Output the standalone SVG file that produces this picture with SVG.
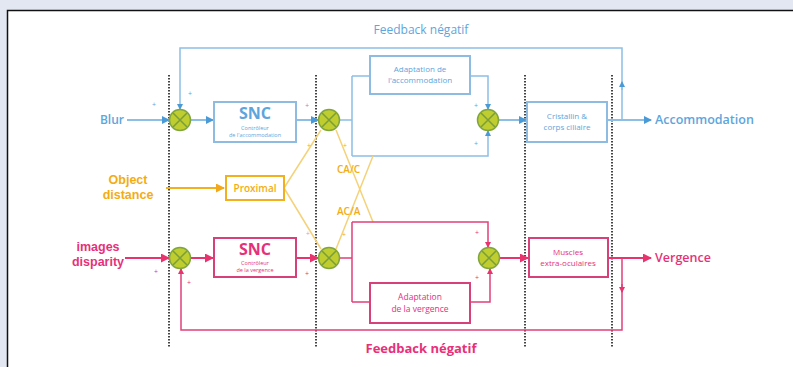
<svg xmlns="http://www.w3.org/2000/svg" width="793" height="367" viewBox="0 0 793 367">
<style>
text{font-family:"Open Sans","Noto Sans","Liberation Sans",sans-serif}
text.ls{font-family:"Liberation Sans",Arial,sans-serif}
.sep{stroke:#444;stroke-width:2;stroke-dasharray:1.5 1.5;fill:none}
.bl{stroke:#8dbfe6;stroke-width:1.5;fill:none}
.blb{stroke:#8dbfe6;stroke-width:2;fill:none}
.pk{stroke:#e0407a;stroke-width:1.5;fill:none}
.pkb{stroke:#e8336e;stroke-width:2;fill:none}
.yl{stroke:#f5d27a;stroke-width:1.5;fill:none}
.ylb{stroke:#f2b01e;stroke-width:2;fill:none}
.bbox{fill:#fff;stroke:#8dbbe2;stroke-width:2}
.pbox{fill:#fff;stroke:#d8407a;stroke-width:2}
.ybox{fill:#fff;stroke:#f2b01e;stroke-width:2}
.sc{fill:#c0cd2e;stroke:#7fa63e;stroke-width:1.5}
.sx{stroke:#7a9e3c;stroke-width:1.5;fill:none}
.tb{fill:#5ea5dc}
.tp{fill:#e6317a}
.ty{fill:#f2ad14}
.sg{font-size:7px}
</style>
<defs>
<marker id="ab" markerWidth="8" markerHeight="8" refX="7" refY="4" orient="auto" markerUnits="userSpaceOnUse"><path d="M0,0 L8,4 L0,8 z" fill="#4a9ad8"/></marker>
<marker id="ap" markerWidth="9" markerHeight="9" refX="8" refY="4.5" orient="auto" markerUnits="userSpaceOnUse"><path d="M0,0 L9,4.5 L0,9 z" fill="#e8336e"/></marker>
<marker id="ay" markerWidth="9" markerHeight="9" refX="8" refY="4.5" orient="auto" markerUnits="userSpaceOnUse"><path d="M0,0 L9,4.5 L0,9 z" fill="#f2a81a"/></marker>
<marker id="sb" markerWidth="6" markerHeight="6" refX="5" refY="3" orient="auto" markerUnits="userSpaceOnUse"><path d="M0,0 L6,3 L0,6 z" fill="#4a9ad8"/></marker>
<marker id="sp" markerWidth="6" markerHeight="6" refX="5" refY="3" orient="auto" markerUnits="userSpaceOnUse"><path d="M0,0 L6,3 L0,6 z" fill="#e8336e"/></marker>
</defs>
<rect x="0" y="0" width="793" height="367" fill="#e3e7f1"/>
<rect x="7.5" y="10.5" width="800" height="400" fill="#fff" stroke="#111" stroke-width="1.5"/>

<g id="separators">
<line class="sep" x1="169" y1="75" x2="169" y2="347"/>
<line class="sep" x1="316" y1="75" x2="316" y2="347"/>
<line class="sep" x1="525" y1="75" x2="525" y2="347"/>
<line class="sep" x1="612" y1="75" x2="612" y2="347"/>
</g>

<g id="connectors">
<line class="blb" x1="127" y1="120" x2="169" y2="120" marker-end="url(#ab)"/>
<line class="blb" x1="190" y1="120" x2="213" y2="120" marker-end="url(#ab)"/>
<line class="blb" x1="296" y1="120" x2="318" y2="120" marker-end="url(#ab)"/>
<path class="bl" d="M339 120 H352 M352 76 V156 M352 76 H370"/>
<path class="bl" d="M352 156 H488 V131" marker-end="url(#sb)"/>
<path class="bl" d="M470 76 H488 V109" marker-end="url(#sb)"/>
<line class="blb" x1="498" y1="120" x2="526" y2="120" marker-end="url(#ab)"/>
<line class="blb" x1="607" y1="120" x2="651" y2="120" marker-end="url(#ab)"/>
<path class="bl" d="M622 120 V48 H180 V109" marker-end="url(#sb)"/>
<line class="bl" x1="622" y1="90" x2="622" y2="82" marker-end="url(#sb)"/>
<line class="ylb" x1="166" y1="188" x2="224" y2="188" marker-end="url(#ay)"/>
<path class="yl" d="M284 188 L321 130 M284 188 L321 249 M373 156 L336 249 M373 222 L336 130"/>
<line class="pkb" x1="125" y1="258" x2="169" y2="258" marker-end="url(#ap)"/>
<line class="pkb" x1="190" y1="258" x2="213" y2="258" marker-end="url(#ap)"/>
<line class="pkb" x1="296" y1="258" x2="318" y2="258" marker-end="url(#ap)"/>
<path class="pk" d="M339 258 H352 M352 222 V302 M352 302 H370"/>
<path class="pk" d="M352 222 H488 V247" marker-end="url(#sp)"/>
<path class="pk" d="M470 302 H490 V269" marker-end="url(#sp)"/>
<line class="pkb" x1="499" y1="258" x2="528" y2="258" marker-end="url(#ap)"/>
<line class="pkb" x1="608" y1="258" x2="651" y2="258" marker-end="url(#ap)"/>
<path class="pk" d="M622 258 V330 H181 V269" marker-end="url(#sp)"/>
<line class="pk" x1="622" y1="284" x2="622" y2="292" marker-end="url(#sp)"/>
</g>

<g id="labels">
<text class="tb" x="124" y="124" font-size="12" font-weight="600" text-anchor="end">Blur</text>
<text class="tb" x="655" y="124" font-size="12.5" font-weight="600">Accommodation</text>
<text class="tb" x="421" y="34" font-size="12" text-anchor="middle">Feedback négatif</text>
<text class="ty ls" x="128" y="184" font-size="12.5" font-weight="700" text-anchor="middle">Object</text>
<text class="ty ls" x="128" y="199" font-size="12.5" font-weight="700" text-anchor="middle">distance</text>
<text class="ty" x="337" y="173" font-size="10" font-weight="600">CA/C</text>
<text class="ty" x="337" y="215" font-size="10" font-weight="600">AC/A</text>
<text class="tp ls" x="98" y="251" font-size="12.5" font-weight="700" text-anchor="middle">images</text>
<text class="tp ls" x="98" y="266" font-size="12.5" font-weight="700" text-anchor="middle">disparity</text>
<text class="tp" x="655" y="262" font-size="12.5" font-weight="600">Vergence</text>
<text class="tp" x="421" y="353" font-size="13" font-weight="700" text-anchor="middle">Feedback négatif</text>
<text class="tb sg" x="154" y="107" text-anchor="middle">+</text>
<text class="tb sg" x="190" y="96" text-anchor="middle">+</text>
<text class="tb sg" x="307" y="108" text-anchor="middle">+</text>
<text class="ty sg" x="309" y="148" text-anchor="middle">+</text>
<text class="ty sg" x="345" y="148" text-anchor="middle">+</text>
<text class="tb sg" x="476" y="108" text-anchor="middle">+</text>
<text class="tb sg" x="476" y="146" text-anchor="middle">+</text>
<text class="tp sg" x="156" y="274" text-anchor="middle">+</text>
<text class="tp sg" x="189" y="285" text-anchor="middle">+</text>
<text class="tp sg" x="307" y="276" text-anchor="middle">+</text>
<text class="ty sg" x="308" y="236" text-anchor="middle">+</text>
<text class="ty sg" x="344" y="237" text-anchor="middle">+</text>
<text class="tp sg" x="477" y="235" text-anchor="middle">+</text>
<text class="tp sg" x="477" y="280" text-anchor="middle">+</text>
</g>

<g id="sum-b1"><circle class="sc" cx="180" cy="120" r="10.5"/><path class="sx" d="M173 113 L187 127 M187 113 L173 127"/></g>
<g id="sum-b2"><circle class="sc" cx="329" cy="120" r="10.5"/><path class="sx" d="M322 113 L336 127 M336 113 L322 127"/></g>
<g id="sum-b3"><circle class="sc" cx="488" cy="120" r="10.5"/><path class="sx" d="M481 113 L495 127 M495 113 L481 127"/></g>
<g id="sum-p1"><circle class="sc" cx="180" cy="258" r="10.5"/><path class="sx" d="M173 251 L187 265 M187 251 L173 265"/></g>
<g id="sum-p2"><circle class="sc" cx="329" cy="258" r="10.5"/><path class="sx" d="M322 251 L336 265 M336 251 L322 265"/></g>
<g id="sum-p3"><circle class="sc" cx="489" cy="258" r="10.5"/><path class="sx" d="M482 251 L496 265 M496 251 L482 265"/></g>

<g id="snc-acc">
<rect class="bbox" x="214" y="102" width="82" height="40"/>
<text class="tb" x="255" y="119" font-size="16" font-weight="700" text-anchor="middle">SNC</text>
<text class="tb" x="255" y="129.5" font-size="5.5" text-anchor="middle">Contrôleur</text>
<text class="tb" x="255" y="136.5" font-size="5.5" text-anchor="middle">de l'accommodation</text>
</g>
<g id="adapt-acc">
<rect class="bbox" x="370" y="56" width="100" height="38"/>
<text class="tb" x="420" y="72" font-size="8" text-anchor="middle">Adaptation de</text>
<text class="tb" x="420" y="83" font-size="8" text-anchor="middle">l'accommodation</text>
</g>
<g id="cristallin">
<rect class="bbox" x="527" y="102" width="80" height="40"/>
<text class="tb" x="567" y="119" font-size="8" text-anchor="middle">Cristallin &amp;</text>
<text class="tb" x="567" y="130" font-size="8" text-anchor="middle">corps ciliaire</text>
</g>
<g id="proximal">
<rect class="ybox" x="226" y="176" width="58" height="24"/>
<text class="ty" x="255" y="192" font-size="10" font-weight="600" text-anchor="middle">Proximal</text>
</g>
<g id="snc-verg">
<rect class="pbox" x="214" y="238" width="82" height="39"/>
<text class="tp" x="255" y="255" font-size="16" font-weight="700" text-anchor="middle">SNC</text>
<text class="tp" x="255" y="265" font-size="5.5" text-anchor="middle">Contrôleur</text>
<text class="tp" x="255" y="272" font-size="5.5" text-anchor="middle">de la vergence</text>
</g>
<g id="adapt-verg">
<rect class="pbox" x="370" y="283" width="100" height="40"/>
<text class="tp" x="420" y="300" font-size="8.5" text-anchor="middle">Adaptation</text>
<text class="tp" x="420" y="312" font-size="8.5" text-anchor="middle">de la vergence</text>
</g>
<g id="muscles">
<rect class="pbox" x="529" y="238" width="79" height="39"/>
<text class="tp" x="568" y="255" font-size="8" text-anchor="middle">Muscles</text>
<text class="tp" x="568" y="266" font-size="8" text-anchor="middle">extra-oculaires</text>
</g>
</svg>
